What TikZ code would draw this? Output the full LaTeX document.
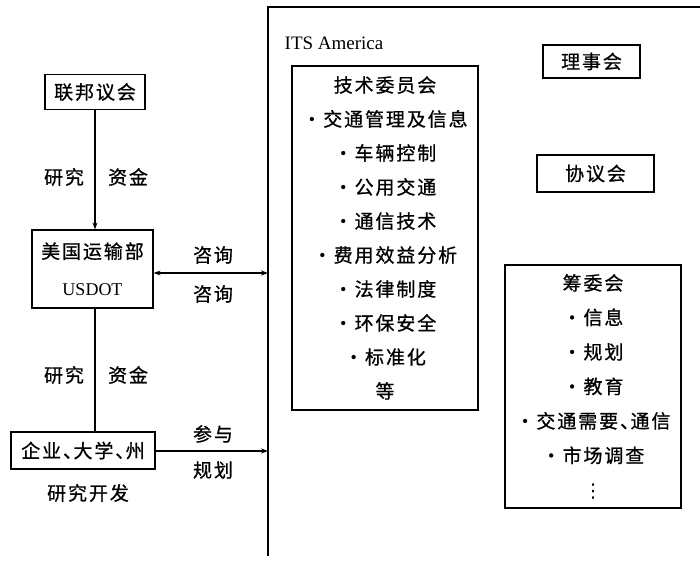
\documentclass[tikz,border=0pt]{standalone}
\usepackage{fontspec}
\setmainfont{Liberation Serif}
\newfontfamily\cjk{Noto Sans CJK SC}[LetterSpace=10,FakeBold=0.8]
\newfontfamily\dejavu{DejaVu Sans}
\newcommand{\dun}{、\hspace{-0.45em}}
\usetikzlibrary{arrows.meta}
\tikzset{
  box/.style={draw, line width=1.2pt, inner sep=0pt, align=center},
  lbl/.style={inner sep=0pt, font=\cjk\fontsize{19}{20}\selectfont},
  conn/.style={line width=1.2pt},
  arr/.style={conn, -{Stealth[length=7pt,width=5pt]}},
  darr/.style={conn, {Stealth[length=7pt,width=5pt]}-{Stealth[length=7pt,width=5pt]}},
}
\begin{document}
\begin{tikzpicture}[x=1pt,y=-1pt]
\useasboundingbox (0,0) rectangle (700,561);
% ITS America frame
\coordinate (itsR) at (700,7);
\coordinate (itsTL) at (268,7);
\coordinate (itsB) at (268,556);
\draw[conn] (itsR) -- (itsTL) -- (itsB);
\node[lbl, font=\fontsize{19}{20}\selectfont] (itslbl) at (334,43) {ITS America};

% left column
\node[box, minimum width=100, minimum height=35, font=\cjk\fontsize{19}{20}\selectfont] (congress) at (95,92) {联邦议会};
\node[box, minimum width=121, minimum height=78, font=\cjk\fontsize{19}{37}\selectfont] (usdot) at (92.5,269) {美国运输部\\{\rmfamily\fontsize{18}{20}\selectfont USDOT}};
\node[box, minimum width=144, minimum height=37, font=\cjk\fontsize{19}{20}\selectfont] (ent) at (83,450.5) {企业\dun 大学\dun 州};
\node[lbl] (rd) at (88,493) {研究开发};

\node[lbl] (l1a) at (64,177) {研究};
\node[lbl] (l1b) at (128,177) {资金};
\node[lbl] (l2a) at (64,375) {研究};
\node[lbl] (l2b) at (128,375) {资金};
\node[lbl] (z1) at (213,255) {咨询};
\node[lbl] (z2) at (213,294) {咨询};
\node[lbl] (c1) at (213,434) {参与};
\node[lbl] (c2) at (213,470) {规划};

\coordinate (e1) at (268,273);
\coordinate (e2) at (268,451);

\draw[arr] (95,0 |- congress.south) -- (95,0 |- usdot.north);
\draw[conn] (95,0 |- usdot.south) -- (95,0 |- ent.north);
\draw[darr] (usdot.east |- e1) -- (e1);
\draw[arr] (ent.east |- e2) -- (e2);

% technical committee
\node[box, minimum width=186, minimum height=344, font=\cjk\fontsize{19}{34}\selectfont] (tech) at (385,238) {技术委员会\\·交通管理及信息\\·车辆控制\\·公用交通\\·通信技术\\·费用效益分析\\·法律制度\\·环保安全\\·标准化\\等};

% right column
\node[box, minimum width=97, minimum height=33, font=\cjk\fontsize{19}{20}\selectfont] (board) at (591.5,61.5) {理事会};
\node[box, minimum width=117, minimum height=37, font=\cjk\fontsize{19}{20}\selectfont] (council) at (595.5,173.5) {协议会};
\node[box, minimum width=176, minimum height=243, font=\cjk\fontsize{19}{34.5}\selectfont] (prep) at (593,386.5) {筹委会\\·信息\\·规划\\·教育\\·交通需要\dun 通信\\·市场调查\\{\dejavu ⋮}};
\end{tikzpicture}
\end{document}
